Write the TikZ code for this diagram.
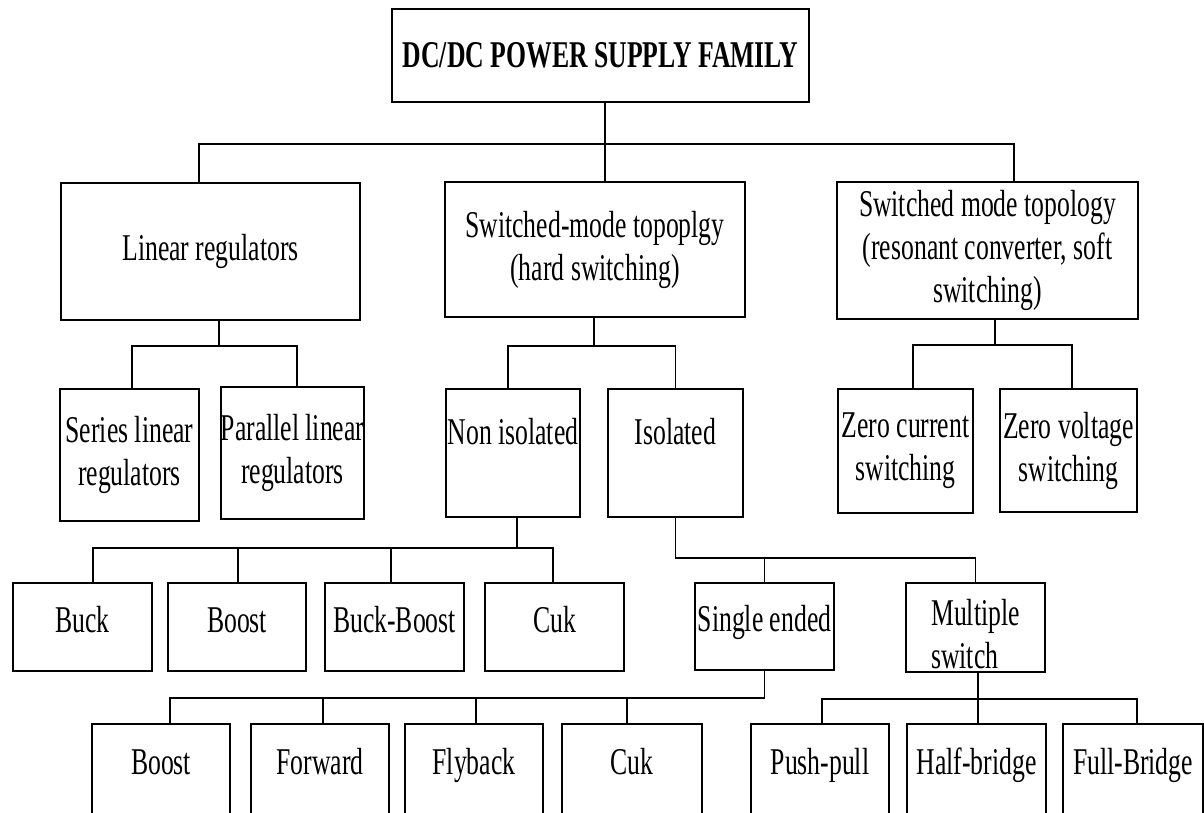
\documentclass[tikz,border=0pt]{standalone}
\usepackage{fontspec}
\setmainfont{Liberation Serif}[FakeStretch=0.68]
\usetikzlibrary{positioning}

\begin{document}
\begin{tikzpicture}
   [x=1pt,y=-1pt,
    every node/.style={draw,line width=2pt,inner sep=0pt,align=center,
      font=\fontsize{37.8pt}{43pt}\selectfont},
    conn/.style={line width=1.8pt},
    leaf/.style={text height=26pt,text depth=16pt}]

\useasboundingbox (0,0) rectangle (1204,812);
\clip (0,0) rectangle (1204,812);

%%%%%%%%%%%%%%%%%%%%%%%%%%%%%%%%%%%%%%%%%%%%%%%%%%%%%%%%%%%%%%%
% Root and first level
%%%%%%%%%%%%%%%%%%%%%%%%%%%%%%%%%%%%%%%%%%%%%%%%%%%%%%%%%%%%%%%

\node[minimum width=417pt,minimum height=93pt,line width=2.6pt,
      font=\fontsize{37.8pt}{43pt}\selectfont\bfseries] (family) at (600.5,55.5) {DC/DC POWER SUPPLY FAMILY};

\node[minimum width=299pt,minimum height=137pt](linear) at (210.5,251.5) {Linear regulators};
\node[minimum width=300pt,minimum height=135pt](hard) at (595,249.5) {Switched-mode topoplgy\\(hard switching)};
\node[minimum width=301pt,minimum height=137pt](soft) at (987.5,250.5) {Switched mode topology\\(resonant converter, soft\\switching)};

\draw[conn] ([xshift=4.5pt]family.south) -- ++(0,41) -| ([xshift=-11.5pt]linear.north);
\draw[conn] ([xshift=4.5pt]family.south) -- ++(0,41) -| ([xshift=10pt]hard.north);
\draw[conn] ([xshift=4.5pt]family.south) -- ++(0,41) -| ([xshift=26.5pt]soft.north);

%%%%%%%%%%%%%%%%%%%%%%%%%%%%%%%%%%%%%%%%%%%%%%%%%%%%%%%%%%%%%%%
% Second level
%%%%%%%%%%%%%%%%%%%%%%%%%%%%%%%%%%%%%%%%%%%%%%%%%%%%%%%%%%%%%%%

\node[minimum width=139pt,minimum height=132pt](series) at (129.5,455) {Series linear\\regulators};
\node[minimum width=139pt,minimum height=132pt](parallel) at (292.5,453) {Parallel linear\\regulators};
\node[minimum width=134pt,minimum height=128pt](nonisol) at (513,453) {Non isolated\\\mbox{}};
\node[minimum width=135pt,minimum height=128pt](isol) at (675.5,453) {Isolated\\\mbox{}};
\node[minimum width=135pt,minimum height=124pt](zcs) at (905.5,451) {Zero current\\switching};
\node[minimum width=137pt,minimum height=123pt](zvs) at (1068.5,450.5) {Zero voltage\\switching};

% Linear regulators
\draw[conn] ([xshift=8.5pt]linear.south) -- ++(0,25) -| ([xshift=2.5pt]series.north);
\draw[conn] ([xshift=8.5pt]linear.south) -- ++(0,25) -| ([xshift=4.5pt]parallel.north);
% Hard switching
\draw[conn] ([xshift=-1pt]hard.south) -- ++(0,28) -| ([xshift=-5pt]nonisol.north);
\draw[conn] ([xshift=-1pt]hard.south) -- ++(0,28) -| (isol.north);
% Soft switching
\draw[conn] ([xshift=7.5pt]soft.south) -- ++(0,25) -| ([xshift=7.5pt]zcs.north);
\draw[conn] ([xshift=7.5pt]soft.south) -- ++(0,25) -| ([xshift=3.5pt]zvs.north);

%%%%%%%%%%%%%%%%%%%%%%%%%%%%%%%%%%%%%%%%%%%%%%%%%%%%%%%%%%%%%%%
% Third level
%%%%%%%%%%%%%%%%%%%%%%%%%%%%%%%%%%%%%%%%%%%%%%%%%%%%%%%%%%%%%%%

\node[leaf,minimum width=139pt,minimum height=88pt](buck) at (82.5,627) {Buck};
\node[leaf,minimum width=138pt,minimum height=88pt](boostA) at (237,627) {Boost};
\node[leaf,minimum width=139pt,minimum height=88pt](buckboost) at (394.5,627) {Buck-Boost};
\node[leaf,minimum width=139pt,minimum height=88pt](cukA) at (554.5,627) {Cuk};
\node[leaf,minimum width=139pt,minimum height=87pt](single) at (764.5,626.5) {Single ended};
\node[align=left,minimum width=139pt,minimum height=89pt](multi) at (975.5,627.5) {\rule{0pt}{40pt}Multiple\\switch};

% Non isolated
\draw[conn] ([xshift=4pt]nonisol.south) -- ++(0,30) -| ([xshift=10.5pt]buck.north);
\draw[conn] ([xshift=4pt]nonisol.south) -- ++(0,30) -| ([xshift=1pt]boostA.north);
\draw[conn] ([xshift=4pt]nonisol.south) -- ++(0,30) -| ([xshift=-3.5pt]buckboost.north);
\draw[conn] ([xshift=4pt]nonisol.south) -- ++(0,30) -| ([xshift=-1.5pt]cukA.north);
% Isolated
\draw[conn] (isol.south) -- ++(0,40) -| (single.north);
\draw[conn] (isol.south) -- ++(0,40) -| (multi.north);

%%%%%%%%%%%%%%%%%%%%%%%%%%%%%%%%%%%%%%%%%%%%%%%%%%%%%%%%%%%%%%%
% Fourth level
%%%%%%%%%%%%%%%%%%%%%%%%%%%%%%%%%%%%%%%%%%%%%%%%%%%%%%%%%%%%%%%

\node[leaf,minimum width=138pt,minimum height=90pt](boostB) at (161,769) {Boost};
\node[leaf,minimum width=138pt,minimum height=90pt](forward) at (320,769) {Forward};
\node[leaf,minimum width=138pt,minimum height=90pt](flyback) at (474,769) {Flyback};
\node[leaf,minimum width=140pt,minimum height=90pt](cukB) at (632,769) {Cuk};
\node[leaf,minimum width=138pt,minimum height=90pt](pushpull) at (820,769) {Push-pull};
\node[leaf,minimum width=139pt,minimum height=90pt](halfbridge) at (976.5,769) {Half-bridge};
\node[leaf,minimum width=140pt,minimum height=90pt](fullbridge) at (1133,769) {Full-Bridge};

% Single ended
\draw[conn] (single.south) -- ++(0,27) -| ([xshift=9pt]boostB.north);
\draw[conn] (single.south) -- ++(0,27) -| ([xshift=3pt]forward.north);
\draw[conn] (single.south) -- ++(0,27) -| ([xshift=2pt]flyback.north);
\draw[conn] (single.south) -- ++(0,27) -| ([xshift=-5pt]cukB.north);
% Multiple switch
\draw[conn] ([xshift=2.5pt]multi.south) -- ++(0,26) -| ([xshift=2pt]pushpull.north);
\draw[conn] ([xshift=2.5pt]multi.south) -- ++(0,26) -| ([xshift=1.5pt]halfbridge.north);
\draw[conn] ([xshift=2.5pt]multi.south) -- ++(0,26) -| ([xshift=4pt]fullbridge.north);

\end{tikzpicture}
\end{document}
